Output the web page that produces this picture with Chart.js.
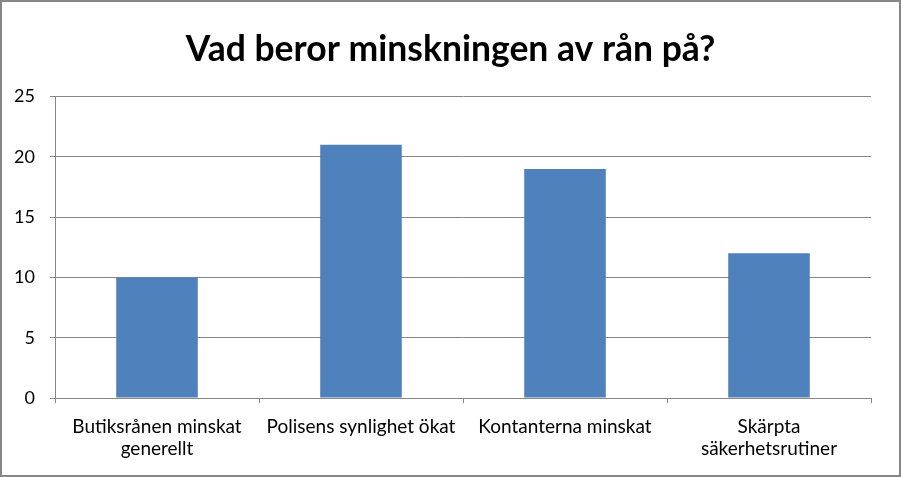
<!DOCTYPE html>
<html>
<head>
<meta charset="utf-8">
<script src="https://cdn.jsdelivr.net/npm/chart.js@4.4.0/dist/chart.umd.min.js"></script>
<style>
  html, body { margin: 0; padding: 0; background: #fff; }
  #wrap { position: relative; width: 901px; height: 477px; }
</style>
</head>
<body>
<div id="wrap"><canvas id="barchart" width="901" height="477"></canvas></div>
<script>
const categories = [
  ["Butiksrånen minskat", "generellt"],
  "Polisens synlighet ökat",
  "Kontanterna minskat",
  ["Skärpta", "säkerhetsrutiner"]
];
const values = [10, 21, 19, 12];
const yTicks = [0, 5, 10, 15, 20, 25];

const fontFamily = "Lato, 'Open Sans', sans-serif";

// grey frame round the whole picture
const framePlugin = {
  id: "frame",
  afterDraw(chart) {
    const c = chart.ctx;
    c.save();
    c.strokeStyle = "#878787";
    c.lineWidth = 2;
    c.strokeRect(1, 1, chart.width - 2, chart.height - 2);
    c.restore();
  }
};

const ctx = document.getElementById("barchart").getContext("2d");
window.myChart = new Chart(ctx, {
  type: "bar",
  data: {
    labels: categories,
    datasets: [
      {
        label: "Antal",
        data: values,
        backgroundColor: "#4F81BD",
        borderWidth: 0,
        categoryPercentage: 0.4,
        barPercentage: 1.0
      }
    ]
  },
  options: {
    responsive: false,
    animation: false,
    layout: { padding: 0 },
    plugins: {
      legend: { display: false },
      tooltip: { enabled: false },
      title: {
        display: true,
        text: "Vad beror minskningen av rån på?",
        color: "#000",
        font: { family: fontFamily, size: 35.5, weight: "bold", lineHeight: 1.2 },
        padding: { top: 28, bottom: 26 }
      }
    },
    scales: {
      x: {
        offset: true,
        grid: {
          offset: true,
          drawOnChartArea: false,
          drawTicks: true,
          tickLength: 5,
          color: "#878787",
          lineWidth: 1
        },
        border: { display: true, color: "#878787", width: 1 },
        ticks: {
          color: "#000",
          padding: 12,
          maxRotation: 0,
          autoSkip: false,
          font: { family: fontFamily, size: 19, lineHeight: 1.2 }
        },
        afterFit(scale) { scale.height = 79; }
      },
      y: {
        min: 0,
        max: 25,
        afterBuildTicks(scale) {
          scale.ticks = yTicks.map((v) => ({ value: v }));
        },
        grid: {
          color: "#878787",
          lineWidth: 1,
          drawTicks: true,
          tickLength: 5
        },
        border: { display: true, color: "#878787", width: 1 },
        ticks: {
          color: "#000",
          padding: 15,
          font: { family: fontFamily, size: 18 }
        },
        afterFit(scale) { scale.width = 55; }
      },
      // empty axis on the right, only keeps the white margin
      yRight: {
        position: "right",
        min: 0,
        max: 25,
        grid: { drawOnChartArea: false, drawTicks: false },
        border: { display: false },
        ticks: { display: false },
        afterFit(scale) { scale.width = 30; }
      }
    }
  },
  plugins: [framePlugin]
});
</script>
</body>
</html>
